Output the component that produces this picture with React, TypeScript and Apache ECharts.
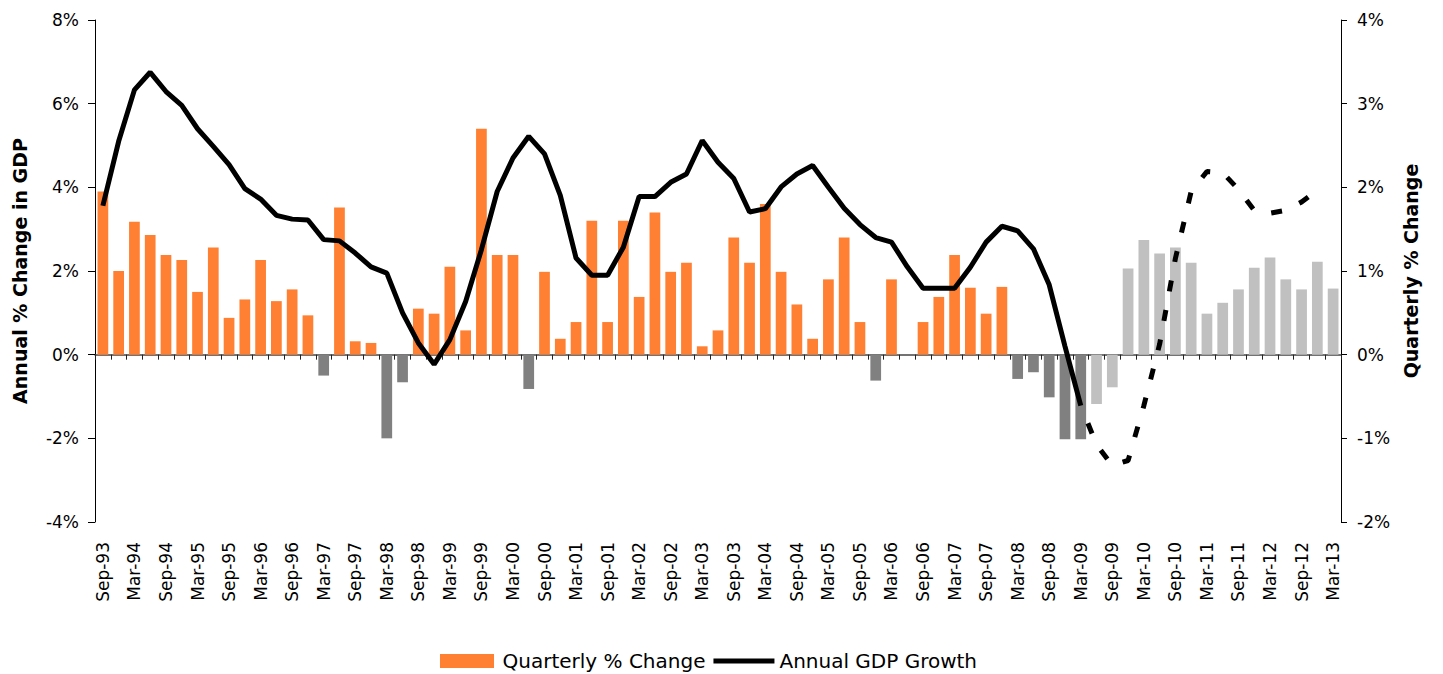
import React, { useEffect, useRef } from 'react';
import * as echarts from 'echarts';

const categories = [
  'Sep-93', 'Dec-93', 'Mar-94', 'Jun-94', 'Sep-94', 'Dec-94', 'Mar-95', 'Jun-95', 'Sep-95', 'Dec-95',
  'Mar-96', 'Jun-96', 'Sep-96', 'Dec-96', 'Mar-97', 'Jun-97', 'Sep-97', 'Dec-97', 'Mar-98', 'Jun-98',
  'Sep-98', 'Dec-98', 'Mar-99', 'Jun-99', 'Sep-99', 'Dec-99', 'Mar-00', 'Jun-00', 'Sep-00', 'Dec-00',
  'Mar-01', 'Jun-01', 'Sep-01', 'Dec-01', 'Mar-02', 'Jun-02', 'Sep-02', 'Dec-02', 'Mar-03', 'Jun-03',
  'Sep-03', 'Dec-03', 'Mar-04', 'Jun-04', 'Sep-04', 'Dec-04', 'Mar-05', 'Jun-05', 'Sep-05', 'Dec-05',
  'Mar-06', 'Jun-06', 'Sep-06', 'Dec-06', 'Mar-07', 'Jun-07', 'Sep-07', 'Dec-07', 'Mar-08', 'Jun-08',
  'Sep-08', 'Dec-08', 'Mar-09', 'Jun-09', 'Sep-09', 'Dec-09', 'Mar-10', 'Jun-10', 'Sep-10', 'Dec-10',
  'Mar-11', 'Jun-11', 'Sep-11', 'Dec-11', 'Mar-12', 'Jun-12', 'Sep-12', 'Dec-12', 'Mar-13',
];

// Quarterly % change (right axis)
const quarterlyChange = [
  1.95, 1.0, 1.59, 1.43, 1.19, 1.13, 0.75, 1.28, 0.44, 0.66,
  1.13, 0.64, 0.78, 0.47, -0.25, 1.76, 0.16, 0.14, -1.0, -0.33,
  0.55, 0.49, 1.05, 0.29, 2.7, 1.19, 1.19, -0.41, 0.99, 0.19,
  0.39, 1.6, 0.39, 1.6, 0.69, 1.7, 0.99, 1.1, 0.1, 0.29,
  1.4, 1.1, 1.8, 0.99, 0.6, 0.19, 0.9, 1.4, 0.39, -0.31,
  0.9, 0, 0.39, 0.69, 1.19, 0.8, 0.49, 0.81, -0.29, -0.21,
  -0.51, -1.01, -1.01, -0.59, -0.39, 1.03, 1.37, 1.21, 1.28, 1.1,
  0.49, 0.62, 0.78, 1.04, 1.16, 0.9, 0.78, 1.11, 0.79,
];

// first forecast quarter (Jun-09)
const forecastStart = 63;

// Annual GDP growth, actual (Sep-93 .. Mar-09), left axis
const annualActual = [
  3.56, 5.1, 6.33, 6.75, 6.29, 5.96, 5.4, 4.98, 4.54, 3.97,
  3.72, 3.33, 3.24, 3.22, 2.75, 2.72, 2.43, 2.1, 1.95, 1.0,
  0.28, -0.23, 0.36, 1.27, 2.51, 3.9, 4.7, 5.22, 4.8, 3.81,
  2.31, 1.9, 1.9, 2.57, 3.78, 3.78, 4.12, 4.32, 5.12, 4.6,
  4.21, 3.41, 3.49, 4.01, 4.32, 4.52, 4.0, 3.5, 3.11, 2.8,
  2.69, 2.1, 1.59, 1.59, 1.59, 2.09, 2.69, 3.07, 2.96, 2.53,
  1.67, 0.2, -1.22,
];

// Annual GDP growth, forecast (Mar-09 .. Dec-12)
const annualForecastFrom = 62;
const annualForecast = [
  -1.22, -2.15, -2.65, -2.53, -1.22, 0.25, 2.3, 3.9, 4.38, 4.35,
  3.95, 3.45, 3.38, 3.45, 3.65, 3.93,
];

const leftAxisRange = { min: -4, max: 8, interval: 2 };
const rightAxisRange = { min: -2, max: 4, interval: 1 };

const ORANGE = '#FF8033';
const DARK_GREY = '#808080';
const LIGHT_GREY = '#C0C0C0';
const FONT = 'DejaVu Sans';

export default function App() {
  const ref = useRef<HTMLDivElement>(null);

  useEffect(() => {
    if (!ref.current) return;
    const chart = echarts.init(ref.current, null, { renderer: 'svg' });

    const barData = quarterlyChange.map((v, i) => ({
      value: v,
      itemStyle: { color: i >= forecastStart ? LIGHT_GREY : v < 0 ? DARK_GREY : ORANGE },
    }));
    const actualData = categories.map((_, i) => (i < annualActual.length ? annualActual[i] : null));
    const forecastData = categories.map((_, i) => {
      const k = i - annualForecastFrom;
      return k >= 0 && k < annualForecast.length ? annualForecast[k] : null;
    });

    chart.setOption({
      animation: false,
      textStyle: { fontFamily: FONT },
      grid: { left: 95, right: 102, top: 20, bottom: 152, containLabel: false },
      legend: {
        data: [
          { name: 'Quarterly % Change', icon: 'path://M0,0 L54,0 L54,14 L0,14 Z' },
          { name: 'Annual GDP Growth', icon: 'path://M0,0 L61,0 L61,5 L0,5 Z', itemStyle: { color: '#000' } },
        ],
        left: 435,
        top: 646,
        itemWidth: 61,
        itemHeight: 14,
        itemGap: 8,
        symbolKeepAspect: true,
        textStyle: { fontFamily: FONT, fontSize: 20, color: '#000' },
      },
      xAxis: [
        {
          type: 'category',
          data: categories,
          position: 'bottom',
          axisLine: { show: false, onZero: false },
          axisTick: { show: false },
          axisLabel: {
            interval: 1,
            rotate: 90,
            margin: 20,
            fontFamily: FONT,
            fontSize: 17,
            color: '#000',
          },
        },
        {
          type: 'category',
          data: categories,
          position: 'bottom',
          axisLine: { show: true, onZero: true, onZeroAxisIndex: 0, lineStyle: { color: '#444', width: 1.5 } },
          axisTick: { show: true, interval: 0, length: 5, lineStyle: { color: '#222' } },
          axisLabel: { show: false },
        },
      ],
      yAxis: [
        {
          type: 'value',
          position: 'left',
          ...leftAxisRange,
          name: 'Annual % Change in GDP',
          nameLocation: 'middle',
          nameRotate: 90,
          nameGap: 66,
          nameTextStyle: { fontFamily: FONT, fontSize: 19, fontWeight: 'bold', color: '#000' },
          axisLine: { show: true, lineStyle: { color: '#000', width: 1 } },
          axisTick: { show: true, length: 7, lineStyle: { color: '#000' } },
          splitLine: { show: false },
          axisLabel: { formatter: '{value}%', margin: 16, fontFamily: FONT, fontSize: 17, color: '#000' },
        },
        {
          type: 'value',
          position: 'right',
          ...rightAxisRange,
          name: 'Quarterly % Change',
          nameLocation: 'middle',
          nameRotate: 90,
          nameGap: 60,
          nameTextStyle: { fontFamily: FONT, fontSize: 19, fontWeight: 'bold', color: '#000' },
          axisLine: { show: true, lineStyle: { color: '#000', width: 1 } },
          axisTick: { show: true, length: 6, lineStyle: { color: '#000' } },
          splitLine: { show: false },
          axisLabel: { formatter: '{value}%', margin: 16, fontFamily: FONT, fontSize: 17, color: '#000' },
        },
      ],
      series: [
        {
          name: 'Quarterly % Change',
          type: 'bar',
          xAxisIndex: 0,
          yAxisIndex: 1,
          data: barData,
          itemStyle: { color: ORANGE },
          barCategoryGap: '32%',
          z: 2,
        },
        {
          name: 'Annual GDP Growth',
          type: 'line',
          xAxisIndex: 0,
          yAxisIndex: 0,
          data: actualData,
          symbol: 'none',
          showSymbol: false,
          lineStyle: { color: '#000', width: 5 },
          itemStyle: { color: '#000' },
          z: 5,
        },
        {
          name: 'Forecast',
          type: 'line',
          xAxisIndex: 0,
          yAxisIndex: 0,
          data: forecastData,
          symbol: 'none',
          showSymbol: false,
          lineStyle: { color: '#000', width: 5, type: [11, 19], dashOffset: 11 },
          itemStyle: { color: '#000' },
          z: 5,
        },
      ],
    });

    return () => chart.dispose();
  }, []);

  return (
    <div
      ref={ref}
      style={{ position: 'absolute', left: 0, top: 0, width: 1443, height: 674, background: '#fff' }}
    />
  );
}
